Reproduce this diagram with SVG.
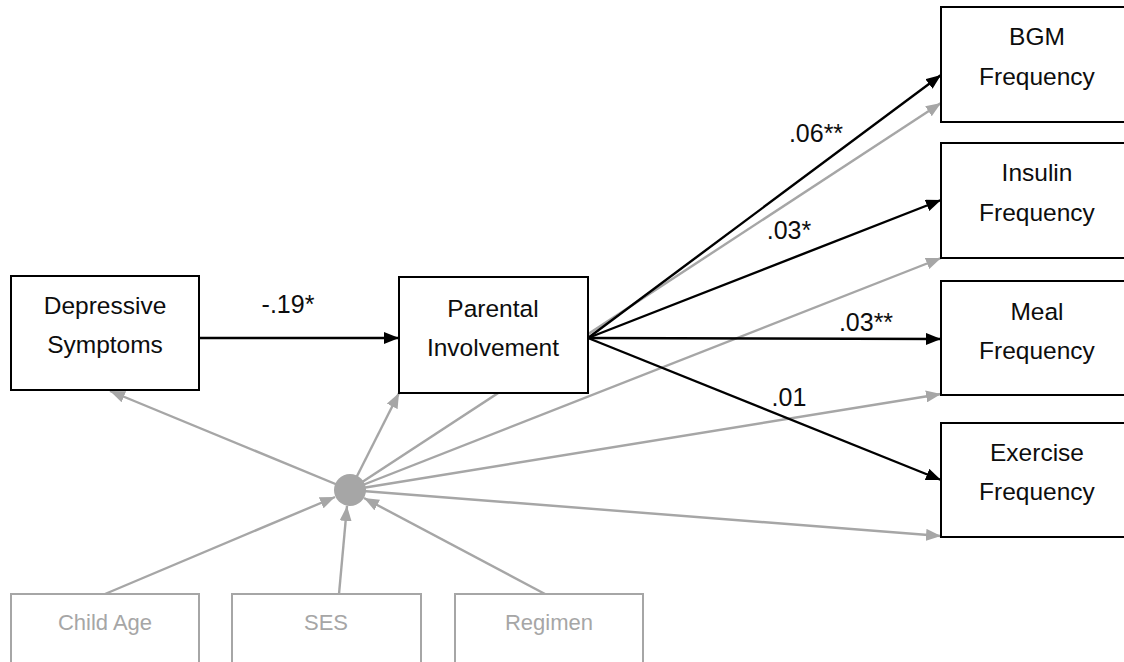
<svg xmlns="http://www.w3.org/2000/svg" width="1124" height="662" viewBox="0 0 1124 662">
  <style>
    .box { fill: #ffffff; stroke: #000000; stroke-width: 2; }
    .gbox { fill: #ffffff; stroke: #a6a6a6; stroke-width: 2; }
    .t { font-family: "Liberation Sans", Arial, sans-serif; font-size: 24.5px; fill: #0d0d0d; text-anchor: middle; }
    .gt { font-family: "Liberation Sans", Arial, sans-serif; font-size: 22px; fill: #a6a6a6; text-anchor: middle; }
    .lbl { font-family: "Liberation Sans", Arial, sans-serif; font-size: 25px; fill: #0d0d0d; text-anchor: middle; }
    .blk { stroke: #000000; stroke-width: 2.4; fill: none; marker-end: url(#ab); }
    .gry { stroke: #a6a6a6; stroke-width: 2.4; fill: none; marker-end: url(#ag); }
  </style>
  <defs>
    <marker id="ab" viewBox="0 0 15 12" refX="15" refY="6" markerWidth="15" markerHeight="12" markerUnits="userSpaceOnUse" orient="auto">
      <path d="M0,0 L15,6 L0,12 z" fill="#000000"/>
    </marker>
    <marker id="ag" viewBox="0 0 15 12" refX="15" refY="6" markerWidth="15" markerHeight="12" markerUnits="userSpaceOnUse" orient="auto">
      <path d="M0,0 L15,6 L0,12 z" fill="#a6a6a6"/>
    </marker>
  </defs>
  <rect width="1124" height="662" fill="#ffffff"/>

  <g id="connectors">
    <line class="gry" x1="350" y1="490" x2="110" y2="391"/>
    <line class="gry" x1="350" y1="490" x2="399" y2="393"/>
    <line class="gry" x1="350" y1="490" x2="941" y2="103"/>
    <line class="gry" x1="350" y1="490" x2="941" y2="258"/>
    <line class="gry" x1="350" y1="490" x2="941" y2="394"/>
    <line class="gry" x1="350" y1="490" x2="941" y2="536"/>
    <line class="gry" x1="105" y1="594" x2="335" y2="497"/>
    <line class="gry" x1="339" y1="594" x2="347" y2="506"/>
    <line class="gry" x1="545" y1="594" x2="364" y2="498"/>
    <line class="blk" x1="199" y1="338" x2="399" y2="338"/>
    <line class="blk" x1="588" y1="338" x2="941" y2="75"/>
    <line class="blk" x1="588" y1="338" x2="941" y2="200"/>
    <line class="blk" x1="588" y1="338" x2="941" y2="339"/>
    <line class="blk" x1="588" y1="338" x2="941" y2="480"/>
    <text class="lbl" x="288" y="313">-.19*</text>
    <text class="lbl" x="816" y="142">.06**</text>
    <text class="lbl" x="789" y="239">.03*</text>
    <text class="lbl" x="866" y="331">.03**</text>
    <text class="lbl" x="789" y="406">.01</text>
  </g>

  <g id="hub">
    <circle cx="350" cy="490" r="16" fill="#a6a6a6"/>
  </g>

  <g id="depressive">
    <rect class="box" x="11" y="276" width="188" height="114"/>
    <text class="t" x="105" y="314">Depressive</text>
    <text class="t" x="105" y="353">Symptoms</text>
  </g>

  <g id="parental">
    <rect class="box" x="399" y="277" width="189" height="116"/>
    <text class="t" x="493" y="317">Parental</text>
    <text class="t" x="493" y="356">Involvement</text>
  </g>

  <g id="bgm">
    <rect class="box" x="941" y="7" width="200" height="115"/>
    <text class="t" x="1037" y="45">BGM</text>
    <text class="t" x="1037" y="85">Frequency</text>
  </g>

  <g id="insulin">
    <rect class="box" x="941" y="143" width="200" height="115"/>
    <text class="t" x="1037" y="181">Insulin</text>
    <text class="t" x="1037" y="221">Frequency</text>
  </g>

  <g id="meal">
    <rect class="box" x="941" y="281" width="200" height="114"/>
    <text class="t" x="1037" y="320">Meal</text>
    <text class="t" x="1037" y="359">Frequency</text>
  </g>

  <g id="exercise">
    <rect class="box" x="941" y="423" width="200" height="114"/>
    <text class="t" x="1037" y="461">Exercise</text>
    <text class="t" x="1037" y="500">Frequency</text>
  </g>

  <g id="childage">
    <rect class="gbox" x="11" y="594" width="188" height="80"/>
    <text class="gt" x="105" y="630">Child Age</text>
  </g>

  <g id="ses">
    <rect class="gbox" x="232" y="594" width="189" height="80"/>
    <text class="gt" x="326" y="630">SES</text>
  </g>

  <g id="regimen">
    <rect class="gbox" x="455" y="594" width="188" height="80"/>
    <text class="gt" x="549" y="630">Regimen</text>
  </g>
</svg>
